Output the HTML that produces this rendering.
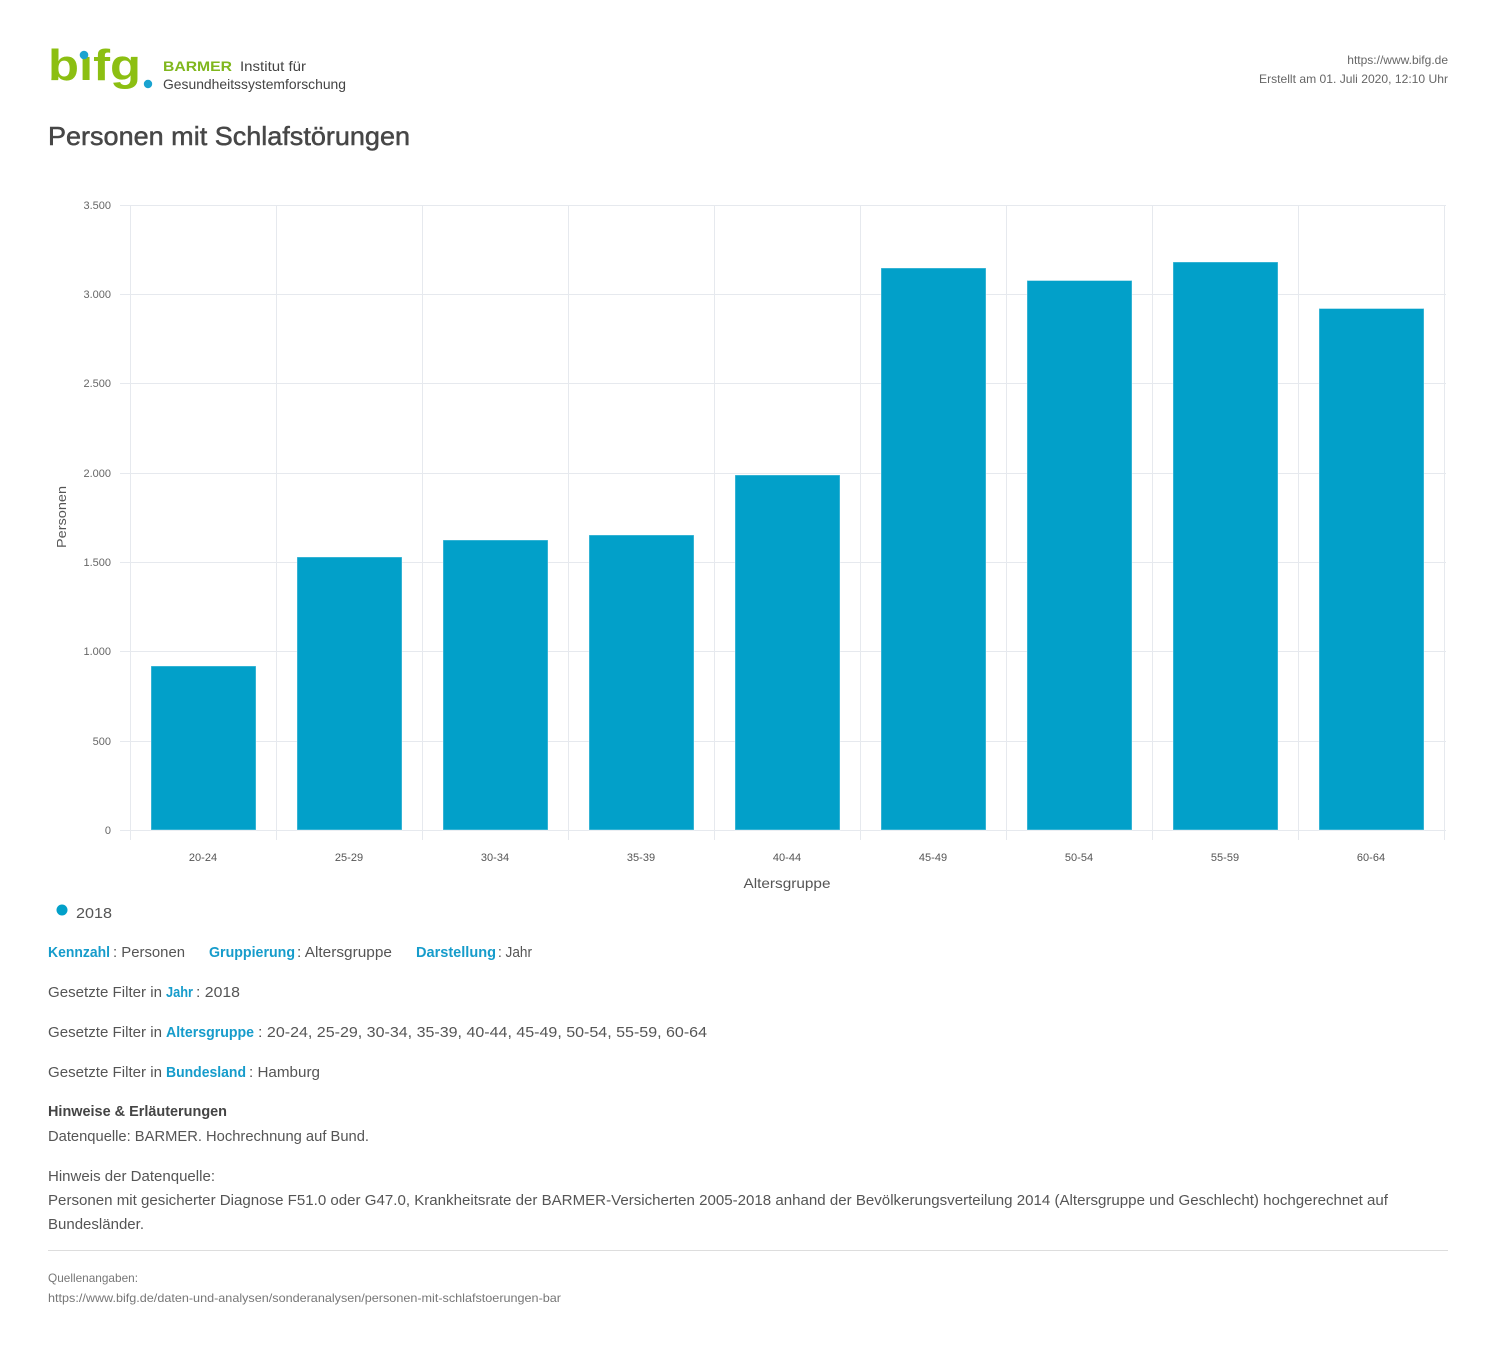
<!DOCTYPE html>
<html><head><meta charset="utf-8"><style>
html,body{margin:0;padding:0;background:#fff;}
svg{display:block;font-family:"Liberation Sans",sans-serif;}
</style></head><body>
<svg width="1496" height="1353" viewBox="0 0 1496 1353" xmlns="http://www.w3.org/2000/svg">
<!-- logo -->
<text x="48" y="80" font-size="44" font-weight="bold" fill="#8cbf12" textLength="93" lengthAdjust="spacingAndGlyphs">bıfg</text>
<circle cx="84" cy="55" r="4.3" fill="#1aa3d0"/>
<circle cx="148" cy="84" r="4.2" fill="#1aa3d0"/>
<text x="163" y="71" font-size="14" font-weight="bold" fill="#80b71d" textLength="69" lengthAdjust="spacingAndGlyphs">BARMER</text>
<text x="240" y="71" font-size="14" fill="#444" textLength="66" lengthAdjust="spacingAndGlyphs">Institut für</text>
<text x="163" y="89" font-size="14" fill="#444" textLength="183" lengthAdjust="spacingAndGlyphs">Gesundheitssystemforschung</text>
<!-- top right -->
<text x="1448" y="64" font-size="12" fill="#666" text-anchor="end">https://www.bifg.de</text>
<text x="1259" y="83" font-size="12" fill="#666" textLength="189" lengthAdjust="spacingAndGlyphs">Erstellt am 01. Juli 2020, 12:10 Uhr</text>
<!-- title -->
<text x="48" y="145" font-size="26" fill="#474747" stroke="#474747" stroke-width="0.5" textLength="362" lengthAdjust="spacingAndGlyphs">Personen mit Schlafstörungen</text>

<!-- grid -->
<g stroke="#e6e9ee" stroke-width="1">
<line x1="120" y1="205.5" x2="1446" y2="205.5"/>
<line x1="120" y1="294.5" x2="1446" y2="294.5"/>
<line x1="120" y1="383.5" x2="1446" y2="383.5"/>
<line x1="120" y1="473.5" x2="1446" y2="473.5"/>
<line x1="120" y1="562.5" x2="1446" y2="562.5"/>
<line x1="120" y1="651.5" x2="1446" y2="651.5"/>
<line x1="120" y1="741.5" x2="1446" y2="741.5"/>
<line x1="120" y1="830.5" x2="1446" y2="830.5"/>
<line x1="130.5" y1="205" x2="130.5" y2="840"/>
<line x1="276.5" y1="205" x2="276.5" y2="840"/>
<line x1="422.5" y1="205" x2="422.5" y2="840"/>
<line x1="568.5" y1="205" x2="568.5" y2="840"/>
<line x1="714.5" y1="205" x2="714.5" y2="840"/>
<line x1="860.5" y1="205" x2="860.5" y2="840"/>
<line x1="1006.5" y1="205" x2="1006.5" y2="840"/>
<line x1="1152.5" y1="205" x2="1152.5" y2="840"/>
<line x1="1298.5" y1="205" x2="1298.5" y2="840"/>
<line x1="1444.5" y1="205" x2="1444.5" y2="840"/>
</g>
<!-- y labels -->
<g font-size="11" fill="#666" text-anchor="end">
<text x="111" y="209">3.500</text>
<text x="111" y="298">3.000</text>
<text x="111" y="387">2.500</text>
<text x="111" y="477">2.000</text>
<text x="111" y="566">1.500</text>
<text x="111" y="655">1.000</text>
<text x="111" y="745">500</text>
<text x="111" y="834">0</text>
</g>
<text transform="translate(66,517) rotate(-90)" font-size="13" fill="#555" text-anchor="middle" textLength="62" lengthAdjust="spacingAndGlyphs">Personen</text>

<!-- bars -->
<g fill="#02a0c9" stroke="#ffffff" stroke-opacity="0.4" stroke-width="1">
<rect x="151" y="666" width="105" height="164"/>
<rect x="297" y="557" width="105" height="273"/>
<rect x="443" y="540" width="105" height="290"/>
<rect x="589" y="535" width="105" height="295"/>
<rect x="735" y="475" width="105" height="355"/>
<rect x="881" y="268" width="105" height="562"/>
<rect x="1027" y="280.5" width="105" height="549.5"/>
<rect x="1173" y="262" width="105" height="568"/>
<rect x="1319" y="308.5" width="105" height="521.5"/>
</g>

<!-- x labels -->
<g font-size="11" fill="#555" text-anchor="middle">
<text x="203" y="861">20-24</text>
<text x="349" y="861">25-29</text>
<text x="495" y="861">30-34</text>
<text x="641" y="861">35-39</text>
<text x="787" y="861">40-44</text>
<text x="933" y="861">45-49</text>
<text x="1079" y="861">50-54</text>
<text x="1225" y="861">55-59</text>
<text x="1371" y="861">60-64</text>
</g>
<text x="787" y="888" font-size="14" fill="#555" text-anchor="middle" textLength="87" lengthAdjust="spacingAndGlyphs">Altersgruppe</text>

<!-- legend -->
<circle cx="62" cy="910" r="5.5" fill="#02a0c9"/>
<text x="76" y="918" font-size="15" fill="#555" textLength="36" lengthAdjust="spacingAndGlyphs">2018</text>

<!-- info -->
<g font-size="15">
<text x="48" y="957" font-weight="bold" fill="#169ccb" textLength="62" lengthAdjust="spacingAndGlyphs">Kennzahl</text>
<text x="113" y="957" fill="#555" textLength="72" lengthAdjust="spacingAndGlyphs">: Personen</text>
<text x="209" y="957" font-weight="bold" fill="#169ccb" textLength="86" lengthAdjust="spacingAndGlyphs">Gruppierung</text>
<text x="297" y="957" fill="#555" textLength="95" lengthAdjust="spacingAndGlyphs">: Altersgruppe</text>
<text x="416" y="957" font-weight="bold" fill="#169ccb" textLength="80" lengthAdjust="spacingAndGlyphs">Darstellung</text>
<text x="498" y="957" fill="#555" textLength="34" lengthAdjust="spacingAndGlyphs">: Jahr</text>

<text x="48" y="997" fill="#555" textLength="114" lengthAdjust="spacingAndGlyphs">Gesetzte Filter in</text>
<text x="166" y="997" font-weight="bold" fill="#169ccb" textLength="27" lengthAdjust="spacingAndGlyphs">Jahr</text>
<text x="196" y="997" fill="#555" textLength="44" lengthAdjust="spacingAndGlyphs">: 2018</text>

<text x="48" y="1037" fill="#555" textLength="114" lengthAdjust="spacingAndGlyphs">Gesetzte Filter in</text>
<text x="166" y="1037" font-weight="bold" fill="#169ccb" textLength="88" lengthAdjust="spacingAndGlyphs">Altersgruppe</text>
<text x="258" y="1037" fill="#555" textLength="449" lengthAdjust="spacingAndGlyphs">: 20-24, 25-29, 30-34, 35-39, 40-44, 45-49, 50-54, 55-59, 60-64</text>

<text x="48" y="1077" fill="#555" textLength="114" lengthAdjust="spacingAndGlyphs">Gesetzte Filter in</text>
<text x="166" y="1077" font-weight="bold" fill="#169ccb" textLength="80" lengthAdjust="spacingAndGlyphs">Bundesland</text>
<text x="249" y="1077" fill="#555" textLength="71" lengthAdjust="spacingAndGlyphs">: Hamburg</text>

<text x="48" y="1116" fill="#444" font-weight="bold" textLength="179" lengthAdjust="spacingAndGlyphs">Hinweise &amp; Erläuterungen</text>
<text x="48" y="1141" fill="#555" textLength="321" lengthAdjust="spacingAndGlyphs">Datenquelle: BARMER. Hochrechnung auf Bund.</text>
<text x="48" y="1181" fill="#555" textLength="167" lengthAdjust="spacingAndGlyphs">Hinweis der Datenquelle:</text>
<text x="48" y="1205" fill="#555" textLength="1340" lengthAdjust="spacingAndGlyphs">Personen mit gesicherter Diagnose F51.0 oder G47.0, Krankheitsrate der BARMER-Versicherten 2005-2018 anhand der Bevölkerungsverteilung 2014 (Altersgruppe und Geschlecht) hochgerechnet auf</text>
<text x="48" y="1229" fill="#555" textLength="96" lengthAdjust="spacingAndGlyphs">Bundesländer.</text>
</g>
<line x1="48" y1="1250.5" x2="1448" y2="1250.5" stroke="#dddddd" stroke-width="1"/>
<text x="48" y="1282" font-size="12" fill="#777" textLength="90" lengthAdjust="spacingAndGlyphs">Quellenangaben:</text>
<text x="48" y="1302" font-size="12" fill="#777" textLength="513" lengthAdjust="spacingAndGlyphs">https://www.bifg.de/daten-und-analysen/sonderanalysen/personen-mit-schlafstoerungen-bar</text>
</svg>
</body></html>
